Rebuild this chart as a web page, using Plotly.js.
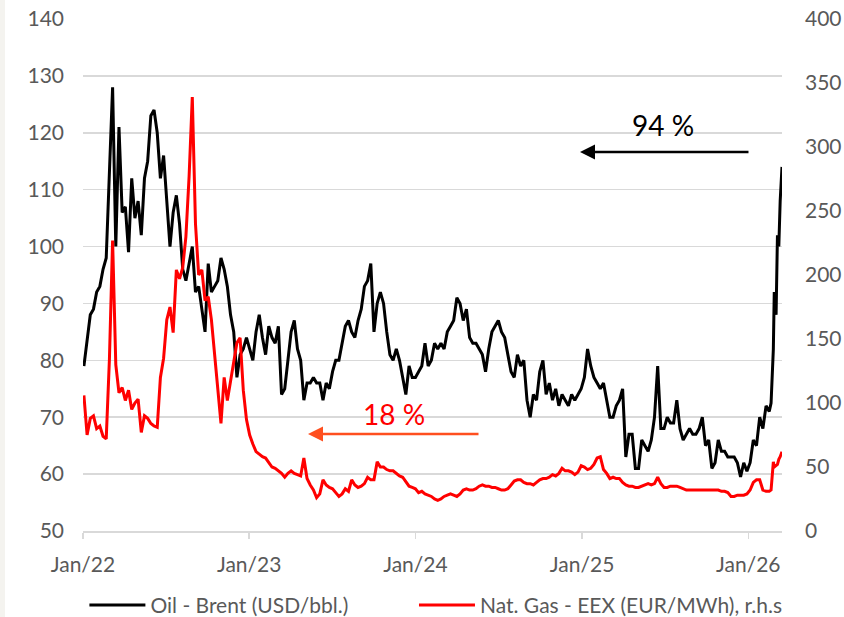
<!DOCTYPE html>
<html>
<head>
<meta charset="utf-8">
<script src="https://cdn.plot.ly/plotly-3.0.1.min.js"></script>
<style>html,body{margin:0;padding:0;background:#fff;}#chart{width:844px;height:617px;}</style>
</head>
<body>
<div id="chart"></div>
<script>
// Weekly observation days (MM-DD) per year
const days2022 = ['01-03','01-10','01-17','01-24','01-31','02-07','02-14','02-21','02-28','03-07','03-14','03-21','03-28','04-04','04-11','04-18','04-25','05-02','05-09','05-16','05-23','05-30','06-06','06-13','06-20','06-27','07-04','07-11','07-18','07-25','08-01','08-08','08-15','08-22','08-29','09-05','09-12','09-19','09-26','10-03','10-10','10-17','10-24','10-31','11-07','11-14','11-21','11-28','12-05','12-12','12-19','12-26'];
const days2023 = ['01-02','01-09','01-16','01-23','01-30','02-06','02-13','02-20','02-27','03-06','03-13','03-20','03-27','04-03','04-10','04-17','04-24','05-01','05-08','05-15','05-22','05-29','06-05','06-12','06-19','06-26','07-03','07-10','07-17','07-24','07-31','08-07','08-14','08-21','08-28','09-04','09-11','09-18','09-25','10-02','10-09','10-16','10-23','10-30','11-06','11-13','11-20','11-27','12-04','12-11','12-18','12-25'];
const days2024 = ['01-01','01-08','01-15','01-22','01-29','02-05','02-12','02-19','02-26','03-04','03-11','03-18','03-25','04-01','04-08','04-15','04-22','04-29','05-06','05-13','05-20','05-27','06-03','06-10','06-17','06-24','07-01','07-08','07-15','07-22','07-29','08-05','08-12','08-19','08-26','09-02','09-09','09-16','09-23','09-30','10-07','10-14','10-21','10-28','11-04','11-11','11-18','11-25','12-02','12-09','12-16','12-23','12-30'];
const days2025 = ['01-06','01-13','01-20','01-27','02-03','02-10','02-17','02-24','03-03','03-10','03-17','03-24','03-31','04-07','04-14','04-21','04-28','05-05','05-12','05-19','05-26','06-02','06-09','06-16','06-23','06-30','07-07','07-14','07-21','07-28','08-04','08-11','08-18','08-25','09-01','09-08','09-15','09-22','09-29','10-06','10-13','10-20','10-27','11-03','11-10','11-17','11-24','12-01','12-08','12-15','12-22','12-29'];
const days2026 = ['01-05','01-12','01-19','01-26','02-02','02-09','02-16','02-20','02-25','02-27','03-03','03-06','03-09','03-12','03-16'];

// Oil - Brent (USD/bbl.), left axis
const brent2022 = [79,84,88,89,92, 93,96,98,113, 128,100,121,106, 107,99,112,105, 108,102,112,115,123, 124,120,112,116, 108,100,106,109, 104,96,94,97,100, 92,93,89,85, 97,92,93,94,98, 96,93,88,85, 77,81,82,84];
const brent2023 = [82,80,85,88,84, 81,86,84,83, 86,74,75,80, 85,87,82,80, 73,76,76,77,76, 76,73,76,75, 78,80,80,83,86, 87,85,84,87, 89,93,94,97, 85,90,92,90,85, 81,80,82,80, 77,74,79,77];
const brent2024 = [77,78,79,83,79, 80,83,82,83, 82,85,86,87, 91,90,87,89,84, 83,83,82,81, 78,82,85,86, 87,85,84,81,78, 77,81,79,80, 73,70,74,73,78, 80,74,76,73, 75,72,74,73, 72,74,73,74,75];
const brent2025 = [77,82,79,77, 76,75,76,73, 70,70,72,73,75, 63,67,67,61, 61,66,65,64, 66,70,79,68,68, 70,69,69,73, 68,66,67,68, 67,67,68,70,65, 66,61,62,66, 64,64,63,63, 63,62,59.5,62,60.5];
const brent2026 = [62,66,65,70,68,72,71, 72.5,82,92,88,102,100,108,114];

// Nat. Gas - EEX (EUR/MWh), right axis
const gas2022 = [106,75,88,90,80, 82,74,72,134, 227,130,108,112, 102,110,95,100, 103,77,90,88,84, 82,81,120,135, 165,175,155,204, 197,206,230,277,339, 240,200,204,180, 183,165,140,110,84, 120,102,117,131, 147,151,110,87];
const gas2023 = [75,68,62,60,58, 57,53,50,49, 47,45,42,45, 47,45,44,43, 57,41,36,32,26, 29,40,36,34, 33,30,27,29,33, 31,40,36,34, 35,37,42,40, 40,54,50,50,48, 47,47,45,43, 42,38,35,34];
const gas2024 = [33,30,31,29,28, 27,25,24,25, 27,28,29,28, 27,29,32,33,32, 32,33,35,36, 35,35,34,34, 33,32,32,33,36, 39,40,40,38, 37,37,36,38,40, 41,41,42,44, 43,45,49,47, 47,46,44,46,51];
const gas2025 = [50,48,49,52, 57,58,48,45, 41,42,41,41,38, 36,35,35,34, 34,35,36,37, 36,37,42,37,34, 34,35,35,35, 34,33,32,32, 32,32,32,32,32, 32,32,32,32, 31,31,30,27, 27,28,28,28,29];
const gas2026 = [32,38,40,40,32,31,31, 32,54,50,51,52,56,58,62];

const tickVals = ['2022-01-01','2023-01-01','2024-01-01','2025-01-01','2026-01-01'];
const tickText = ['Jan/22','Jan/23','Jan/24','Jan/25','Jan/26'];

const dates = [].concat(
  days2022.map(d => '2022-' + d),
  days2023.map(d => '2023-' + d),
  days2024.map(d => '2024-' + d),
  days2025.map(d => '2025-' + d),
  days2026.map(d => '2026-' + d)
);
const brent = [].concat(brent2022, brent2023, brent2024, brent2025, brent2026);
const gas = [].concat(gas2022, gas2023, gas2024, gas2025, gas2026);

const FONT = 'Lato, "Open Sans", sans-serif';

const traces = [
  {x: dates, y: brent, type: 'scatter', mode: 'lines', name: 'Oil - Brent (USD/bbl.)',
   line: {color: '#000000', width: 3}, yaxis: 'y', legend: 'legend'},
  {x: dates, y: gas, type: 'scatter', mode: 'lines', name: 'Nat. Gas - EEX (EUR/MWh), r.h.s',
   line: {color: '#ff0000', width: 3}, yaxis: 'y2', legend: 'legend2'}
];

const legendBase = {
  orientation: 'h', xref: 'container', yref: 'container',
  xanchor: 'left', y: 0.019, yanchor: 'middle',
  itemwidth: 56,
  font: {family: FONT, size: 21, color: '#595959'},
  bgcolor: 'rgba(0,0,0,0)', borderwidth: 0
};

const layout = {
  width: 844, height: 617,
  margin: {l: 83, r: 62, t: 19, b: 86, pad: 0},
  paper_bgcolor: '#ffffff', plot_bgcolor: '#ffffff',
  font: {family: FONT, size: 21, color: '#595959'},
  showlegend: true,
  xaxis: {
    type: 'date', range: ['2022-01-01', '2026-03-16'],
    tickmode: 'array', tickvals: tickVals, ticktext: tickText,
    ticks: 'outside', ticklen: 6, tickwidth: 1.5, tickcolor: '#d9d9d9',
    showline: true, linecolor: '#d9d9d9', linewidth: 1.5,
    showgrid: false, zeroline: false,
    ticklabelstandoff: 8,
    tickfont: {family: FONT, size: 21, color: '#595959'}
  },
  yaxis: {
    range: [50, 140], tick0: 50, dtick: 10,
    showgrid: true, gridcolor: '#d9d9d9', gridwidth: 1.5,
    zeroline: false, showline: false, ticks: '',
    ticklabelstandoff: 18,
    tickfont: {family: FONT, size: 21, color: '#595959'}
  },
  yaxis2: {
    range: [0, 400], tick0: 0, dtick: 50,
    overlaying: 'y', side: 'right',
    showgrid: false, zeroline: false, showline: false, ticks: '',
    ticklabelstandoff: 22,
    tickfont: {family: FONT, size: 21, color: '#595959'}
  },
  legend: Object.assign({}, legendBase, {x: 0.1}),
  legend2: Object.assign({}, legendBase, {x: 0.4905}),
  shapes: [
    {type: 'rect', xref: 'paper', yref: 'paper', x0: -83/699, x1: -78/699, y0: -86/512, y1: 617/512 - 86/512,
     fillcolor: '#f4f3ef', line: {width: 0}, layer: 'below'}
  ],
  annotations: [
    {xref: 'paper', yref: 'paper', x: 0.8298, y: 0.793, xanchor: 'center', yanchor: 'middle',
     text: '94 %', showarrow: false,
     font: {family: FONT, size: 28, color: '#000000'}},
    {xref: 'paper', yref: 'paper', x: 0.711, y: 0.740, text: '', showarrow: true,
     ax: 170, ay: 0, arrowhead: 2, arrowsize: 1.2, arrowwidth: 2.5, arrowcolor: '#000000', standoff: 0, startstandoff: 0},
    {xref: 'paper', yref: 'paper', x: 0.445, y: 0.2285, xanchor: 'center', yanchor: 'middle',
     text: '18 %', showarrow: false,
     font: {family: FONT, size: 28, color: '#ff0000'}},
    {xref: 'paper', yref: 'paper', x: 0.3219, y: 0.1895, text: '', showarrow: true,
     ax: 172, ay: 0, arrowhead: 2, arrowsize: 1.2, arrowwidth: 2.5, arrowcolor: '#ff4f1f', standoff: 0, startstandoff: 0}
  ]
};

Plotly.newPlot('chart', traces, layout, {displayModeBar: false, staticPlot: true});
</script>
</body>
</html>
